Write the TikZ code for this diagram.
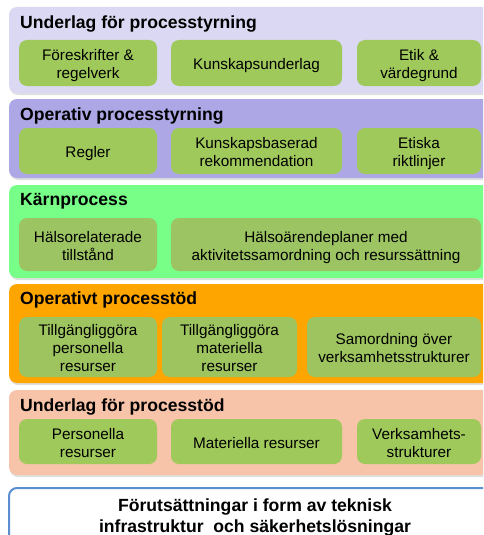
\documentclass[tikz,border=0pt]{standalone}
\usepackage{fontspec}
\setmainfont{Liberation Sans}
\usetikzlibrary{shadows}
\definecolor{lavA}{HTML}{DAD8F2}
\definecolor{lavB}{HTML}{ADA7E6}
\definecolor{mint}{HTML}{77FF88}
\definecolor{orng}{HTML}{FFA500}
\definecolor{salm}{HTML}{F7C3A9}
\definecolor{bluB}{HTML}{5B8FD0}
\definecolor{grnA}{HTML}{A0C95C}
\definecolor{grnB}{HTML}{9CC462}
\definecolor{grnC}{HTML}{9DC45E}
\newcommand{\topst}{\rule{0pt}{17.5pt}}
\newcommand{\botst}{\rule[-4pt]{0pt}{4pt}}
\tikzset{
  layer/.style={rounded corners=8pt, inner sep=0pt, minimum width=492pt,
    drop shadow={shadow xshift=1pt, shadow yshift=-2pt, opacity=0.25}},
  box/.style={rounded corners=8pt, inner sep=0pt, fill=grnA, align=center,
    font=\fontsize{15.3}{18}\selectfont},
  ttl/.style={anchor=west, inner sep=0pt, font=\fontsize{17.6}{20}\selectfont\bfseries}
}
\begin{document}
\begin{tikzpicture}[x=1pt,y=1pt]
\useasboundingbox (0,0) rectangle (483,-535);
\clip (0,0) rectangle (483,-535);
\fill[white] (0,0) rectangle (483,-535);
% layers
\node[layer, fill=lavA, minimum height=86pt] (L1) at (255,-50) {};
\node[layer, fill=lavB, minimum height=79pt] (L2) at (255,-138.5) {};
\node[layer, fill=mint, minimum height=93pt] (L3) at (255,-231.5) {};
\node[layer, fill=orng, minimum height=99pt] (L4) at (255,-333.5) {};
\node[layer, fill=salm, minimum height=85pt] (L5) at (255,-432.5) {};
\node[rounded corners=8pt, inner sep=0pt, minimum width=492pt, minimum height=80pt,
  fill=white, draw=bluB, line width=2pt] (L6) at (255,-528) {};
% titles
\node[ttl] (T1) at (20,-23.5) {Underlag för processtyrning};
\node[ttl] (T2) at (20,-115.5) {Operativ processtyrning};
\node[ttl] (T3) at (20,-201.5) {Kärnprocess};
\node[ttl] (T4) at (20,-299.5) {Operativt processtöd};
\node[ttl] (T5) at (20,-406.5) {Underlag för processtöd};
\node[inner sep=0pt, align=center, font=\fontsize{17.6}{21}\selectfont\bfseries] (T6) at (255,-517)
  {Förutsättningar i form av teknisk\\infrastruktur\ \ och säkerhetslösningar};
% layer 1 boxes
\node[box, minimum width=138pt, minimum height=46pt] (a1) at (88,-63) {\topst Föreskrifter \&\\regelverk\botst};
\node[box, minimum width=171pt, minimum height=46pt] (a2) at (256.5,-63) {\topst Kunskapsunderlag\botst};
\node[box, minimum width=124pt, minimum height=46pt] (a3) at (419,-63) {\topst Etik \&\\värdegrund\botst};
% layer 2 boxes
\node[box, minimum width=138pt, minimum height=46pt] (b1) at (88,-151) {\topst Regler\botst};
\node[box, minimum width=171pt, minimum height=46pt] (b2) at (256.5,-151) {\topst Kunskapsbaserad\\rekommendation\botst};
\node[box, minimum width=124pt, minimum height=46pt] (b3) at (419,-151) {\topst Etiska\\riktlinjer\botst};
% layer 3 boxes
\node[box, fill=grnB, minimum width=138pt, minimum height=53pt] (c1) at (88,-244.5) {\topst Hälsorelaterade\\tillstånd\botst};
\node[box, fill=grnB, minimum width=310pt, minimum height=53pt] (c2) at (326,-244.5) {\topst Hälsoärendeplaner med\\aktivitetssamordning och resurssättning\botst};
% layer 4 boxes
\node[box, fill=grnC, minimum width=138pt, minimum height=60pt] (d1) at (88,-347) {\topst Tillgängliggöra\\personella\\resurser\botst};
\node[box, fill=grnC, minimum width=135pt, minimum height=60pt] (d2) at (229.5,-347) {\topst Tillgängliggöra\\materiella\\resurser\botst};
\node[box, fill=grnC, minimum width=174pt, minimum height=60pt] (d3) at (394,-347) {\topst Samordning över\\verksamhetsstrukturer\botst};
% layer 5 boxes
\node[box, minimum width=138pt, minimum height=45pt] (e1) at (88,-441.5) {\topst Personella\\resurser\botst};
\node[box, minimum width=171pt, minimum height=45pt] (e2) at (256.5,-441.5) {\topst Materiella resurser\botst};
\node[box, minimum width=124pt, minimum height=45pt] (e3) at (419,-441.5) {\topst Verksamhets-\\strukturer\botst};
\end{tikzpicture}
\end{document}
